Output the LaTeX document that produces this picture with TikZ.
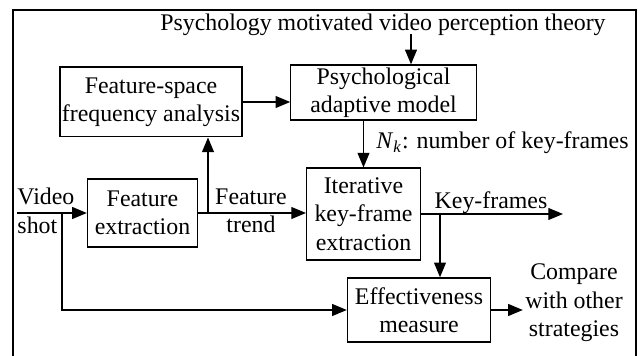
\documentclass[tikz,border=0pt]{standalone}
\usepackage{fontspec}
\setmainfont{Liberation Serif}
\usetikzlibrary{arrows.meta}

\begin{document}
\begin{tikzpicture}[x=0.545pt,y=-0.545pt,line width=0.7pt,
            box/.style={draw,rectangle,align=center,inner sep=1pt},
            arr/.style={-{Triangle[length=8pt,width=6.5pt]}},
            lbl/.style={align=center,inner sep=1pt},
            font=\fontsize{13pt}{15.5pt}\selectfont]
            \useasboundingbox (0,0) rectangle (641,356);
            \draw (13,356) |- (636,10) -- (636,356);
            \node (fsfa) at (151,102) [box,minimum width=99pt,minimum height=38pt] {Feature-space\\frequency analysis};
            \node (pam) at (383.5,92.5) [box,minimum width=101pt,minimum height=30pt] {Psychological\\adaptive model};
            \node (fe) at (142.5,213) [box,minimum width=60pt,minimum height=37pt] {Feature\\extraction};
            \node (ike) at (363.5,214) [box,minimum width=62pt,minimum height=50pt] {Iterative\\key-frame\\extraction};
            \node (em) at (419,310) [box,minimum width=78pt,minimum height=35pt] {Effectiveness\\measure};
            \node (theory) at (383,25) [lbl] {Psychology motivated video perception theory};
            \node (nk) at (374,143) [lbl,anchor=west] {\textit{N}\textsubscript{\textit{k}}: number of key-frames};
            \node (shot) at (15,211) [lbl,align=left,anchor=west] {Video\\shot};
            \node (trend) at (251,211) [lbl] {Feature\\trend};
            \node (kf) at (491,203) [lbl] {Key-frames};
            \node (cmp) at (574,303) [lbl] {Compare\\with other\\strategies};
            \coordinate (t1) at (411,34);
            \coordinate (vin) at (17,213);
            \coordinate (vb) at (62,213);
            \coordinate (ft) at (208,213);
            \coordinate (kb) at (440,213);
            \coordinate (kout) at (563,213);
            \draw[arr] (t1) -- (t1 |- pam.north);
            \draw[arr] (fsfa.east) -- (fsfa.east -| pam.west);
            \draw[arr] (pam.south -| ike.north) -- (ike.north);
            \draw[arr] (vin) -- (fe.west);
            \draw[arr] (vb) |- (em.west);
            \draw[arr] (fe.east) -- (fe.east -| ike.west);
            \draw[arr] (ft) -- (ft |- fsfa.south);
            \draw[arr] (ike.east) -- (ike.east -| kout);
            \draw[arr] (kb |- ike.east) -- (kb |- em.north);
            \draw[arr] (em.east) -- (cmp.west |- em.east);
        \end{tikzpicture}
\end{document}
